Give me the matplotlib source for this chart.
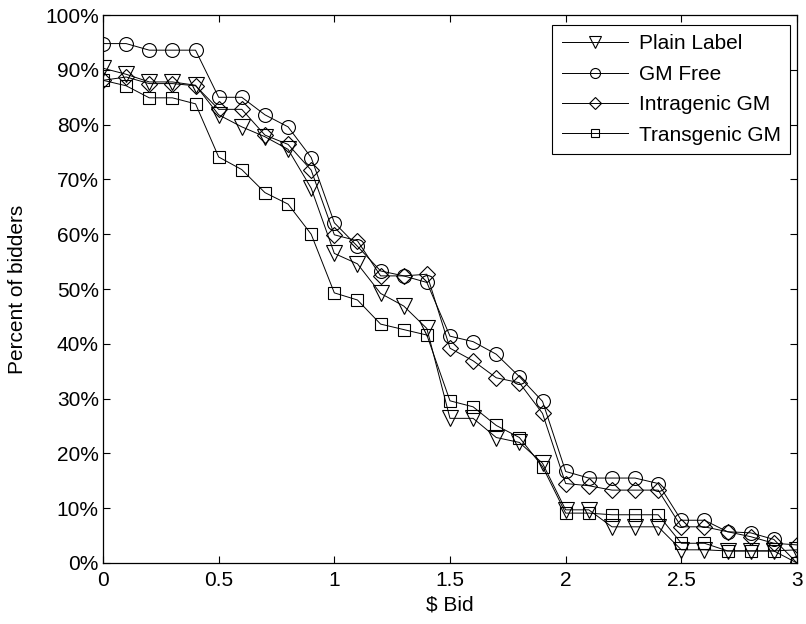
import numpy as np
import matplotlib
matplotlib.use('Agg')
import matplotlib.pyplot as plt
from matplotlib.ticker import FuncFormatter

plt.rcParams['font.family'] = ['Liberation Sans', 'DejaVu Sans']

bid = [round(0.1 * i, 1) for i in range(31)]

plain = [90.3, 89.2, 87.8, 87.8, 87.2, 81.8, 79.6, 77.8, 75.5, 68.4,
         56.5, 54.6, 49.2, 46.9, 42.8, 26.4, 26.4, 22.9, 22.0, 18.2,
         9.7, 9.7, 6.6, 6.6, 6.6, 2.4, 2.4, 2.2, 2.2, 2.2, 2.4]
gm_free = [94.8, 94.8, 93.6, 93.6, 93.6, 85.0, 85.0, 81.8, 79.6, 74.0,
           62.1, 57.8, 53.3, 52.4, 51.2, 41.4, 40.4, 38.1, 34.0, 29.5,
           16.7, 15.5, 15.5, 15.5, 14.5, 7.8, 7.8, 5.7, 5.5, 4.3, 0.0]
intragenic = [88.1, 88.7, 87.5, 87.5, 87.1, 82.8, 82.8, 78.1, 76.4, 71.7,
              59.9, 58.8, 52.4, 52.4, 52.7, 39.2, 36.9, 33.8, 32.9, 27.3,
              14.5, 14.1, 13.3, 13.3, 13.3, 6.6, 6.6, 5.7, 4.8, 3.6, 3.3]
transgenic = [88.1, 87.1, 84.9, 84.9, 83.8, 74.1, 71.8, 67.6, 65.5, 60.0,
              49.3, 48.0, 43.6, 42.6, 41.6, 29.6, 28.5, 25.1, 22.9, 17.6,
              9.1, 9.1, 8.8, 8.8, 8.8, 3.6, 3.6, 2.2, 2.2, 2.2, 0.0]

fs = 15

fig = plt.figure(figsize=(8.06, 6.24), dpi=100)
ax = fig.add_axes([0.1278, 0.0978, 0.861, 0.878])

ax.plot(bid, plain, color='k', lw=0.7, marker='v', ms=12, mfc='none', mec='k', mew=0.8, label='Plain Label')
ax.plot(bid, gm_free, color='k', lw=0.7, marker='o', ms=10, mfc='none', mec='k', mew=0.8, label='GM Free')
ax.plot(bid, intragenic, color='k', lw=0.7, marker='D', ms=8, mfc='none', mec='k', mew=0.8, label='Intragenic GM')
ax.plot(bid, transgenic, color='k', lw=0.7, marker='s', ms=8, mfc='none', mec='k', mew=0.8, label='Transgenic GM')

ax.set_xlim(0, 3)
ax.set_ylim(0, 100)
ax.set_xticks([0, 0.5, 1, 1.5, 2, 2.5, 3])
ax.set_xticklabels(['0', '0.5', '1', '1.5', '2', '2.5', '3'])
ax.set_yticks(range(0, 101, 10))
ax.yaxis.set_major_formatter(FuncFormatter(lambda v, p: '%d%%' % v))
ax.tick_params(direction='in', top=True, right=True, length=5, width=0.8, labelsize=fs)
ax.tick_params(axis='x', pad=6)
ax.tick_params(axis='y', pad=3)
for s in ax.spines.values():
    s.set_linewidth(0.9)

ax.set_xlabel('$ Bid', fontsize=fs, labelpad=4)
ax.set_ylabel('Percent of bidders', fontsize=fs, labelpad=13)

leg = ax.legend(loc='upper right', fontsize=fs, markerscale=0.72, handlelength=3.2,
                labelspacing=0.55, borderpad=0.45, handletextpad=0.5, borderaxespad=0,
                fancybox=False, framealpha=1, edgecolor='k', bbox_to_anchor=(0.99, 0.982))
leg.get_frame().set_linewidth(0.8)

fig.savefig('out.png', dpi=100)
